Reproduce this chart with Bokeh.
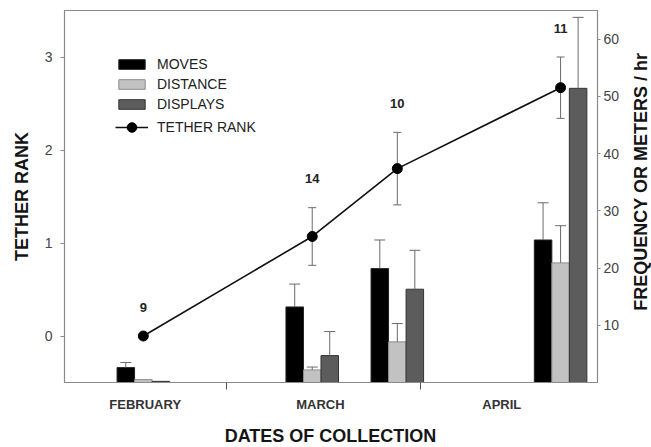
import math
from bokeh.plotting import figure
from bokeh.models import (Range1d, LinearAxis, FixedTicker, Legend, LegendItem,
                          ColumnDataSource)
from bokeh.layouts import row, column
from bokeh.core.properties import value
from bokeh.embed import file_html
from bokeh.resources import INLINE

# ---- data ----
months = ["FEBRUARY", "MARCH", "APRIL"]
month_label_day = [47, 75, 104]          # day-of-year where month names sit
month_boundary_day = [60, 91]            # 1 March, 1 April (tick marks)

collection_day = [46.7, 73.7, 87.3, 113.4]   # day-of-year of each collection
sample_n = [9, 14, 10, 11]

tether_rank = [0.0, 1.07, 1.80, 2.67]
tether_err = [0.0, 0.31, 0.39, 0.33]

moves = [2.6, 13.2, 19.9, 24.9]
moves_err = [0.9, 4.0, 5.0, 6.5]
distance = [0.5, 2.2, 7.1, 20.9]
distance_err = [0.0, 0.5, 3.2, 6.5]
displays = [0.2, 4.7, 16.3, 51.4]
displays_err = [0.0, 4.2, 6.8, 12.4]

left_ticks = [0, 1, 2, 3]
right_ticks = [10, 20, 30, 40, 50, 60]

x_title = "DATES OF COLLECTION"
right_title = "FREQUENCY OR METERS / hr"

FONT = "Liberation Sans"
AXIS_GRAY = "#8a8a8a"

W_MAIN, H_MAIN = 628, 426
W_RIGHT, H_BOTTOM = 23, 21

p = figure(width=W_MAIN, height=H_MAIN, output_backend="svg",
           toolbar_location=None,
           x_range=Range1d(34.1, 119.3), y_range=Range1d(-0.5, 3.5),
           min_border_left=64, min_border_right=31, min_border_top=10,
           min_border_bottom=44)
p.xgrid.visible = False
p.ygrid.visible = False
p.outline_line_color = AXIS_GRAY
p.outline_line_width = 1.2
p.background_fill_color = "white"

p.extra_y_ranges = {"right": Range1d(0, 65)}

# ---- bars ----
bw = 2.8
series = [
    ("MOVES", moves, moves_err, -bw, "#000000", "#222222"),
    ("DISTANCE", distance, distance_err, 0.0, "#c2c2c2", "#8c8c8c"),
    ("DISPLAYS", displays, displays_err, bw, "#5c5c5c", "#333333"),
]
bar_renderers = []
for name, vals, errs, off, fill, line in series:
    xs = [d + off for d in collection_day]
    src = ColumnDataSource(dict(x=xs, top=vals))
    r = p.vbar(x="x", top="top", bottom=0, width=bw, source=src,
               fill_color=fill, line_color=line, line_width=1,
               y_range_name="right")
    bar_renderers.append((name, r))
    ex = [x for x, e in zip(xs, errs) if e > 0]
    ey0 = [v for v, e in zip(vals, errs) if e > 0]
    ey1 = [v + e for v, e in zip(vals, errs) if e > 0]
    p.segment(x0=ex, y0=ey0, x1=ex, y1=ey1, line_color="#6a6a6a",
              line_width=1, y_range_name="right")
    p.scatter(x=ex, y=ey1, marker="dash", size=11, line_color="#6a6a6a",
              line_width=1, y_range_name="right")

# ---- tether rank ----
tx = [d for d, e in zip(collection_day, tether_err) if e > 0]
tlo = [v - e for v, e in zip(tether_rank, tether_err) if e > 0]
thi = [v + e for v, e in zip(tether_rank, tether_err) if e > 0]
p.segment(x0=tx, y0=tlo, x1=tx, y1=thi, line_color="#6a6a6a", line_width=1)
p.scatter(x=tx + tx, y=tlo + thi, marker="dash", size=8,
          line_color="#6a6a6a", line_width=1)
tl = p.line(collection_day, tether_rank, line_color="#111111", line_width=1.6)
ts = p.scatter(collection_day, tether_rank, marker="circle", size=10,
               fill_color="#000000", line_color="#000000")

# sample sizes
p.text(x=collection_day, y=[v + e for v, e in zip(tether_rank, tether_err)],
       text=[str(n) for n in sample_n], text_align="center",
       text_baseline="middle", y_offset=-29, text_font_size="13px",
       text_font_style="bold", text_color="#222222", text_font=value(FONT))

# ---- axes ----
ya = p.yaxis[0]
ya.ticker = FixedTicker(ticks=left_ticks)
ya.axis_label = "TETHER RANK"
ya.axis_label_text_font = FONT
ya.axis_label_text_font_size = "18px"
ya.axis_label_text_font_style = "bold"
ya.axis_label_text_color = "#151515"
ya.axis_label_standoff = 10
ya.major_label_text_font = FONT
ya.major_label_text_font_size = "14px"
ya.major_label_text_color = "#444444"
ya.major_label_standoff = 8
ya.major_tick_out = 4
ya.major_tick_in = 0
ya.minor_tick_out = 0
ya.minor_tick_in = 0
ya.axis_line_color = AXIS_GRAY
ya.major_tick_line_color = AXIS_GRAY

ra = LinearAxis(y_range_name="right", ticker=FixedTicker(ticks=right_ticks))
ra.major_label_text_font = FONT
ra.major_label_text_font_size = "14px"
ra.major_label_text_color = "#444444"
ra.major_label_standoff = 3
ra.major_tick_out = 3
ra.major_tick_in = 0
ra.minor_tick_out = 0
ra.minor_tick_in = 0
ra.axis_line_color = AXIS_GRAY
ra.major_tick_line_color = AXIS_GRAY
p.add_layout(ra, "right")

xa = p.xaxis[0]
xa.ticker = FixedTicker(ticks=month_label_day, minor_ticks=month_boundary_day)
xa.major_label_overrides = {d: m for d, m in zip(month_label_day, months)}
xa.major_label_text_font = FONT
xa.major_label_text_font_size = "13px"
xa.major_label_text_font_style = "bold"
xa.major_label_text_color = "#333333"
xa.major_label_standoff = 7
xa.major_tick_out = 0
xa.major_tick_in = 0
xa.minor_tick_out = 7
xa.minor_tick_in = 0
xa.minor_tick_line_color = "#555555"
xa.axis_line_color = AXIS_GRAY

# ---- legends ----
common = dict(padding=0, margin=0, spacing=4, glyph_width=33,
              label_height=12, label_standoff=9, label_text_font=FONT,
              label_text_font_size="14px", label_text_color="#222222",
              border_line_alpha=0, background_fill_alpha=0)
items = [LegendItem(label=n, renderers=[r]) for n, r in bar_renderers]
legend1 = Legend(items=items, location=(51, 270), glyph_height=12, **common)
legend2 = Legend(items=[LegendItem(label="TETHER RANK", renderers=[tl, ts])],
                 location=(51, 243), glyph_height=24, **common)
p.add_layout(legend1)
p.add_layout(legend2)

# ---- right-hand axis title (separate narrow strip) ----
pr = figure(width=W_RIGHT, height=H_MAIN, output_backend="svg",
            toolbar_location=None, x_axis_type=None, y_axis_type=None,
            x_range=Range1d(0, W_RIGHT), y_range=Range1d(0, H_MAIN),
            min_border=0)
pr.outline_line_color = None
pr.grid.visible = False
pr.text(x=[12], y=[H_MAIN - 196], text=[right_title],
        angle=math.pi / 2, text_align="center", text_baseline="middle",
        text_font=value(FONT), text_font_size="18px", text_font_style="bold",
        text_color="#151515")

# ---- bottom axis title (separate strip) ----
pb = figure(width=W_MAIN + W_RIGHT, height=H_BOTTOM, output_backend="svg",
            toolbar_location=None, x_axis_type=None, y_axis_type=None,
            x_range=Range1d(0, W_MAIN + W_RIGHT), y_range=Range1d(0, H_BOTTOM),
            min_border=0)
pb.outline_line_color = None
pb.grid.visible = False
pb.text(x=[330], y=[12], text=[x_title], text_align="center",
        text_baseline="middle", text_font=value(FONT), text_font_size="18px",
        text_font_style="bold", text_color="#151515")

layout = column(row(p, pr), pb)
open("out.html", "w").write(file_html(layout, INLINE))
